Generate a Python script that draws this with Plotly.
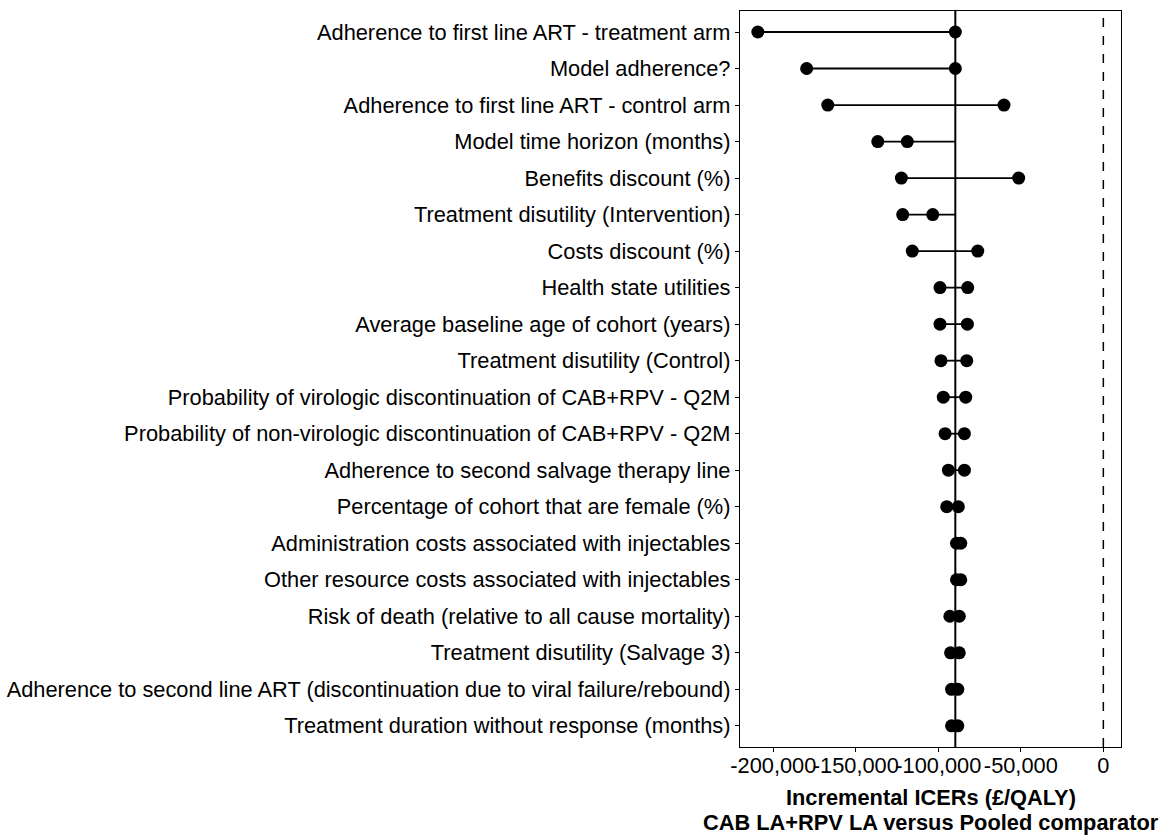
import plotly.graph_objects as go

parameters = [
    "Adherence to first line ART - treatment arm",
    "Model adherence?",
    "Adherence to first line ART - control arm",
    "Model time horizon (months)",
    "Benefits discount (%)",
    "Treatment disutility (Intervention)",
    "Costs discount (%)",
    "Health state utilities",
    "Average baseline age of cohort (years)",
    "Treatment disutility (Control)",
    "Probability of virologic discontinuation of CAB+RPV - Q2M",
    "Probability of non-virologic discontinuation of CAB+RPV - Q2M",
    "Adherence to second salvage therapy line",
    "Percentage of cohort that are female (%)",
    "Administration costs associated with injectables",
    "Other resource costs associated with injectables",
    "Risk of death (relative to all cause mortality)",
    "Treatment disutility (Salvage 3)",
    "Adherence to second line ART (discontinuation due to viral failure/rebound)",
    "Treatment duration without response (months)",
]

icer_low = [-209400, -179800, -167000, -136700, -122400, -121600, -115800,
            -99000, -99000, -98400, -97000, -95900, -93900, -94900,
            -89000, -89000, -93000, -92600, -92000, -92000]
icer_high = [-89700, -89700, -60200, -118800, -51300, -103400, -76100,
             -82200, -82400, -82800, -83400, -84200, -84200, -87900,
             -86400, -86400, -87300, -87300, -88200, -88200]

base_icer = -89700
threshold = 0

tick_vals = [-200000, -150000, -100000, -50000, 0]
tick_labels = ["-200,000", "-150,000", "-100,000", "-50,000", "0"]

FONT = "Liberation Sans, Arial, sans-serif"
FS = 21.8

# segments span from the lower value (or base) to the higher value (or base)
seg_x, seg_y = [], []
for p, lo, hi in zip(parameters, icer_low, icer_high):
    seg_x += [min(lo, base_icer), max(hi, base_icer), None]
    seg_y += [p, p, None]

fig = go.Figure()
fig.add_trace(go.Scatter(x=seg_x, y=seg_y, mode="lines",
                         line=dict(color="black", width=1.8),
                         showlegend=False, hoverinfo="skip"))
fig.add_trace(go.Scatter(x=icer_low, y=parameters, mode="markers",
                         marker=dict(color="black", size=13),
                         showlegend=False))
fig.add_trace(go.Scatter(x=icer_high, y=parameters, mode="markers",
                         marker=dict(color="black", size=13),
                         showlegend=False))

fig.add_shape(type="line", xref="x", yref="paper", x0=base_icer, x1=base_icer,
              y0=0, y1=1, line=dict(color="black", width=2), layer="below")
fig.add_shape(type="line", xref="x", yref="paper", x0=threshold, x1=threshold,
              y0=0, y1=1, line=dict(color="black", width=1.5, dash="dash"),
              layer="below")

fig.add_annotation(text="<b>Incremental ICERs (£/QALY)</b>", xref="paper",
                   yref="paper", x=0.5, y=0, yanchor="middle", yshift=-50,
                   borderpad=0,
                   showarrow=False, font=dict(family=FONT, size=FS, color="black"))
fig.add_annotation(text="<b>CAB LA+RPV LA versus Pooled comparator</b>",
                   xref="paper", yref="paper", x=0.5, y=0, yanchor="middle",
                   yshift=-75, showarrow=False, borderpad=0,
                   font=dict(family=FONT, size=FS, color="black"))

fig.update_layout(
    width=1169, height=835,
    margin=dict(l=740, r=48, t=11, b=88, autoexpand=False),
    paper_bgcolor="white", plot_bgcolor="white",
    font=dict(family=FONT, size=FS, color="black"),
    xaxis=dict(range=[-220200, 10700], tickvals=tick_vals, ticktext=tick_labels,
               tickangle=0, ticklabelstandoff=-5,
               showgrid=False, zeroline=False, showline=True, mirror=True,
               linecolor="black", linewidth=1.3, ticks="outside", ticklen=4,
               tickcolor="black", tickfont=dict(family=FONT, size=FS, color="black")),
    yaxis=dict(type="category", categoryorder="array", categoryarray=parameters,
               range=[19.58, -0.575], showgrid=False, zeroline=False,
               showline=True, mirror=True, linecolor="black", linewidth=1.3,
               ticks="outside", ticklen=4, tickcolor="black",
               tickfont=dict(family=FONT, size=FS, color="black")),
)

fig.write_html(
    "out.html",
    config={"displayModeBar": False},
    post_script="document.body.style.margin='0';"
                "document.body.style.overflow='hidden';"
                "document.documentElement.style.overflow='hidden';",
)
